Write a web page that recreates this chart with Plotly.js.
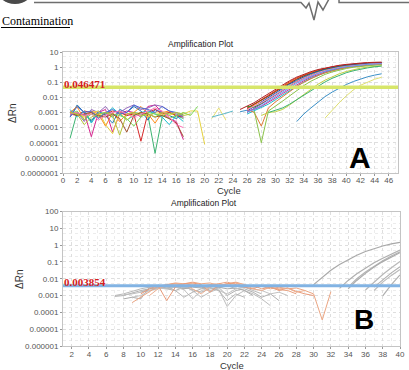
<!DOCTYPE html>
<html>
<head>
<meta charset="utf-8">
<script src="https://cdn.plot.ly/plotly-3.0.1.min.js"></script>
<style>
  html, body { margin: 0; padding: 0; background: #ffffff; }
  #chart { width: 409px; height: 370px; }
</style>
</head>
<body>
<div id="chart"></div>
<script>
// ---- Axis ticks ----
const cycleTicksA = [0, 2, 4, 6, 8, 10, 12, 14, 16, 18, 20, 22, 24, 26, 28, 30, 32, 34, 36, 38, 40, 42, 44, 46];
const cycleTicksB = [2, 4, 6, 8, 10, 12, 14, 16, 18, 20, 22, 24, 26, 28, 30, 32, 34, 36, 38, 40];
const deltaRnTicksA = [1e-7, 1e-6, 1e-5, 1e-4, 1e-3, 1e-2, 1e-1, 1, 10];
const deltaRnLabelsA = ['0.0000001', '0.000001', '0.00001', '0.0001', '0.001', '0.01', '0.1', '1', '10'];
const deltaRnTicksB = [1e-6, 1e-5, 1e-4, 1e-3, 1e-2, 1e-1, 1, 10, 100];
const deltaRnLabelsB = ['0.000001', '0.00001', '0.0001', '0.001', '0.01', '0.1', '1', '10', '100'];

// ---- Thresholds ----
const thresholdA = 0.046471;
const thresholdB = 0.003854;

// ---- Run A: background noise (first cycle, log10 ΔRn per cycle) ----
const runABaseStart = [1, 1, 1, 1, 1, 1, 1, 1, 1, 1, 1, 1, 1, 21, 21, 25];
const runABaseLog = [
  [-4.7, -3.0, -3.2, -3.5, -3.1, -3.0, -3.3, -2.9, -3.2, -3.0, -3.1, -3.2, -5.7, -3.3, -3.0, -3.2, -3.4],
  [-3.3, -2.5, -3.0, -3.6, -2.9, -3.2, -3.7, -2.8, -3.0, -2.6, -2.9, -3.5, -2.8, -3.0, -3.2, -3.4, -3.1],
  [-2.9, -3.1, -3.0, -4.6, -3.0, -2.8, -4.3, -3.1, -2.9, -3.0, -3.3, -2.6, -2.5, -3.0, -3.4, -3.6, -4.8],
  [-3.0, -2.6, -3.5, -2.9, -3.1, -3.9, -3.0, -3.6, -3.1, -3.0, -2.6, -3.1, -3.7, -3.0, -2.9, -3.3, -3.0],
  [-3.1, -3.2, -2.9, -3.0, -3.3, -3.1, -2.9, -3.0, -3.2, -3.1, -4.9, -3.0, -2.8, -3.1, -3.0, -3.2, -3.3],
  [-3.2, -3.0, -3.6, -2.8, -3.0, -2.6, -3.2, -3.0, -2.7, -2.5, -2.8, -2.7, -2.5, -2.6, -2.9, -3.1, -3.3],
  [-2.8, -3.3, -2.9, -3.7, -3.0, -3.1, -2.7, -3.1, -3.5, -3.2, -3.0, -2.9, -3.1, -3.3, -3.8, -3.2, -3.6],
  [-3.0, -3.1, -3.3, -3.0, -2.9, -3.8, -4.4, -3.0, -3.5, -3.1, -3.0, -3.3, -3.0, -3.1, -3.2, -3.0, -3.1, -2.9, -2.9, -5.1],
  [-3.1, -2.9, -3.5, -3.1, -3.3, -3.0, -3.1, -3.2, -3.4, -3.9, -3.3, -3.0, -3.1, -3.2, -3.4, -3.2, -3.0, -3.2, -2.6],
  [-3.0, -3.2, -3.1, -3.0, -3.2, -3.3, -3.1, -3.4, -4.3, -3.2, -3.0, -3.1, -3.3, -3.2, -3.4, -3.7, -4.6],
  [-3.3, -2.6, -3.0, -2.9, -3.4, -3.0, -2.8, -3.1, -3.0, -2.5, -2.7, -2.8, -3.0, -2.6, -2.9, -3.0, -3.2],
  [-3.1, -3.0, -3.2, -3.1, -3.5, -3.2, -3.0, -2.9, -3.1, -3.3, -3.1, -2.9, -2.7, -2.9, -3.3, -3.8, -4.0],
  [-3.0, -3.1, -3.8, -3.3, -3.1, -3.0, -3.2, -4.5, -3.1, -3.0, -3.2, -3.1, -3.3, -3.0, -3.1, -3.0, -3.2, -3.1],
  [-3.4, -2.7, -3.5],
  [-3.3, -3.2, -3.05, -2.9],
  [-2.95, -2.85]
];
const runABaseColor = ['#3cb371', '#1f77b4', '#d62790', '#ff8c1a', '#d62728', '#9467bd', '#17becf', '#e6d23c',
  '#7ed957', '#a0522d', '#4b6cd6', '#ff6fb5', '#b5c43a', '#e8e070', '#5cb8c8', '#3a8fc7'];

// ---- Run A: amplification curves ----
const runAAmpStart = [26, 26, 26, 26, 26, 26, 26, 26, 26, 27, 28, 26, 25, 26, 29, 33, 37];
const runAAmpLog = [
  [-2.75, -2.45, -2.15, -1.85, -1.55, -1.25, -0.97, -0.72, -0.52, -0.35, -0.2, -0.08, 0.02, 0.1, 0.16, 0.21, 0.25, 0.28, 0.3, 0.31],
  [-2.8, -2.5, -2.2, -1.9, -1.6, -1.3, -1.02, -0.77, -0.56, -0.38, -0.23, -0.1, 0.0, 0.08, 0.14, 0.19, 0.23, 0.26, 0.28, 0.3],
  [-2.7, -2.45, -2.2, -1.92, -1.62, -1.33, -1.05, -0.8, -0.58, -0.4, -0.25, -0.12, -0.02, 0.06, 0.13, 0.18, 0.22, 0.25, 0.27, 0.28],
  [-2.9, -2.6, -2.3, -2.0, -1.7, -1.4, -1.12, -0.86, -0.63, -0.44, -0.28, -0.15, -0.04, 0.05, 0.12, 0.17, 0.21, 0.24, 0.26, 0.27],
  [-3.0, -2.75, -2.45, -2.15, -1.85, -1.55, -1.26, -0.98, -0.74, -0.53, -0.36, -0.22, -0.1, 0.0, 0.08, 0.14, 0.19, 0.22, 0.25, 0.27],
  [-2.6, -2.65, -2.4, -2.1, -1.8, -1.5, -1.2, -0.93, -0.7, -0.5, -0.33, -0.19, -0.08, 0.01, 0.08, 0.13, 0.17, 0.2, 0.22, 0.23],
  [-2.9, -2.8, -2.6, -2.35, -2.05, -1.75, -1.45, -1.16, -0.9, -0.67, -0.48, -0.32, -0.19, -0.08, 0.01, 0.08, 0.13, 0.17, 0.2, 0.22],
  [-3.1, -2.9, -2.7, -2.45, -2.15, -1.85, -1.55, -1.25, -0.98, -0.74, -0.54, -0.37, -0.23, -0.12, -0.03, 0.04, 0.1, 0.14, 0.17, 0.19],
  [-2.8, -3.0, -3.9, -2.7, -2.3, -1.95, -1.6, -1.28, -1.0, -0.75, -0.55, -0.38, -0.24, -0.13, -0.04, 0.03, 0.09, 0.13, 0.16, 0.18],
  [-2.9, -5.0, -2.9, -2.6, -2.25, -1.9, -1.55, -1.22, -0.93, -0.68, -0.48, -0.32, -0.19, -0.09, -0.01, 0.05, 0.1, 0.13, 0.15],
  [-3.2, -3.0, -2.95, -2.8, -2.5, -2.15, -1.8, -1.45, -1.13, -0.86, -0.63, -0.44, -0.29, -0.17, -0.07, 0.0, 0.05, 0.09],
  [-2.8, -2.6, -2.35, -2.1, -1.82, -1.52, -1.22, -0.95, -0.72, -0.52, -0.36, -0.22, -0.11, -0.02, 0.05, 0.11, 0.16, 0.19, 0.22, 0.24],
  [-2.8, -2.6, -2.35, -2.05, -1.75, -1.45, -1.16, -0.9, -0.66, -0.46, -0.3, -0.16, -0.05, 0.04, 0.12, 0.18, 0.23, 0.27, 0.3, 0.32, 0.33],
  [-2.95, -2.8, -2.55, -2.25, -1.95, -1.65, -1.35, -1.07, -0.82, -0.6, -0.42, -0.27, -0.15, -0.05, 0.03, 0.09, 0.14, 0.18, 0.21, 0.23],
  [-3.0, -2.85, -2.7, -2.45, -2.15, -1.85, -1.55, -1.25, -0.98, -0.74, -0.54, -0.37, -0.24, -0.13, -0.05, 0.02, 0.07],
  [-3.6, -3.1, -2.7, -2.3, -1.95, -1.65, -1.38, -1.15, -0.95, -0.78, -0.64, -0.53, -0.44],
  [-3.37, -2.85, -2.35, -1.9, -1.5, -1.2, -0.98, -0.8, -0.67]
];
const runAAmpColor = ['#d62728', '#ff7f0e', '#8c3b1a', '#1f4fb4', '#7b3fb5', '#2ca02c', '#d62790', '#17becf',
  '#e07b39', '#8bc34a', '#c0d040', '#ff88c8', '#b22222', '#6495ed', '#3cb371', '#3a8fc7', '#e0e070'];

// ---- Run B: background noise ----
const runBBaseStart = [7, 7, 8, 8, 9, 10, 9, 10, 11, 12];
const runBBaseLog = [
  [-3.0, -2.9, -2.75, -2.6, -2.5, -2.45, -2.5, -2.4, -2.6, -2.45, -2.5, -2.7, -2.55, -2.4, -2.6, -2.5, -2.7, -2.9],
  [-3.05, -3.0, -2.85, -2.7, -2.6, -2.55, -2.6, -2.7, -2.5, -2.65, -2.8, -2.6, -2.5, -3.0, -2.7, -2.6, -2.8, -3.1, -2.9, -3.3],
  [-2.95, -2.9, -2.8, -2.7, -2.55, -2.6, -2.5, -2.45, -2.7, -3.1, -2.8, -2.6, -3.65, -3.0, -2.7, -2.9, -3.2, -3.6],
  [-3.2, -3.1, -3.2, -2.5, -2.45, -2.55, -2.5, -2.6, -2.5, -2.55, -2.45, -2.5, -2.6, -2.55, -2.7, -3.0],
  [-3.1, -3.0, -2.7, -2.6, -2.55, -2.5, -2.65, -3.2, -2.7, -2.55, -2.7, -2.9, -2.6, -2.5, -2.6, -2.7, -2.9, -2.8, -3.0],
  [-2.8, -2.6, -2.5, -2.45, -2.7, -3.1, -2.8, -2.6, -2.5, -2.7, -3.3, -2.9, -3.1],
  [-3.42, -3.1, -2.8, -2.45, -2.35, -2.25, -2.3, -2.2, -2.3, -2.25, -2.4, -2.3, -2.2, -2.35, -2.5, -2.45, -2.6, -2.5, -2.6, -2.55, -2.7, -2.9, -4.45, -2.77],
  [-2.9, -2.6, -2.4, -3.3, -2.5, -2.3, -2.25, -2.35, -2.8, -2.4, -2.3, -2.25, -2.5, -2.6, -2.4, -2.5, -2.7, -2.55, -2.75, -2.9, -3.0],
  [-3.0, -2.6, -2.4, -2.3, -2.35, -2.6, -2.9, -2.5, -2.3, -2.4, -2.25, -2.35, -2.6, -2.7, -2.5, -2.6, -2.55, -2.8, -2.7],
  [-2.5, -2.35, -2.3, -2.4, -2.3, -2.45, -2.35, -2.3, -2.2, -2.35, -2.5, -2.4, -2.6, -2.5, -2.65, -2.7, -2.9]
];
const runBBaseColor = ['#b8b8b8', '#b0b0b0', '#bdbdbd', '#aaaaaa', '#c2c2c2', '#b4b4b4',
  '#eba582', '#e99a78', '#eeae8e', '#e8a07e'];

// ---- Run B: amplification curves ----
const runBAmpStart = [30, 33, 34, 34, 36, 37, 37, 38];
const runBAmpLog = [
  [-2.35, -1.9, -1.5, -1.15, -0.85, -0.6, -0.38, -0.2, -0.05, 0.07, 0.16],
  [-2.57, -2.1, -1.7, -1.35, -1.05, -0.78, -0.52, -0.29],
  [-2.5, -2.0, -1.6, -1.25, -0.93, -0.65, -0.4],
  [-2.6, -2.1, -1.68, -1.3, -0.98, -0.7, -0.45],
  [-2.67, -2.2, -1.75, -1.35, -0.98],
  [-2.5, -2.05, -1.65, -1.28],
  [-2.7, -2.2, -1.8, -1.45],
  [-3.02, -2.35, -1.77]
];
const runBAmpColor = ['#a9a9a9', '#b0b0b0', '#b5b5b5', '#ababab', '#b8b8b8', '#b2b2b2', '#bcbcbc', '#b0b0b0'];

// ---- page geometry helpers (pixels -> paper fractions) ----
const W = 409, H = 370;
const px = x => x / W;
const py = y => 1 - y / H;

function curve(xa, ya, start, logs, color, width) {
  return {
    type: 'scatter', mode: 'lines', xaxis: xa, yaxis: ya,
    x: logs.map((_, i) => start + i),
    y: logs.map(v => Math.pow(10, v)),
    line: { color: color, width: width || 1 },
    hoverinfo: 'skip', showlegend: false
  };
}

const traces = [];
runABaseLog.forEach((s, i) => traces.push(curve('x', 'y', runABaseStart[i], s, runABaseColor[i])));
runAAmpLog.forEach((s, i) => traces.push(curve('x', 'y', runAAmpStart[i], s, runAAmpColor[i])));
traces.push({ type: 'scatter', mode: 'lines', xaxis: 'x', yaxis: 'y', x: [0, 47.3], y: [thresholdA, thresholdA],
  line: { color: '#d7e66a', width: 3.5 }, hoverinfo: 'skip', showlegend: false });

runBBaseLog.forEach((s, i) => traces.push(curve('x2', 'y2', runBBaseStart[i], s, runBBaseColor[i])));
runBAmpLog.forEach((s, i) => traces.push(curve('x2', 'y2', runBAmpStart[i], s, runBAmpColor[i], 1.2)));
traces.push({ type: 'scatter', mode: 'lines', xaxis: 'x2', yaxis: 'y2', x: [1, 40], y: [thresholdB, thresholdB],
  line: { color: '#82b3e3', width: 3 }, hoverinfo: 'skip', showlegend: false });

const tickFont = { family: 'Liberation Sans, Arial, sans-serif', size: 8, color: '#555555' };
const gridStyle = {
  showgrid: true, gridcolor: '#dedede', griddash: 'dot', gridwidth: 1,
  showline: true, mirror: true, linecolor: '#c4c4c4', linewidth: 1,
  ticks: 'outside', ticklen: 2, tickcolor: '#999999',
  zeroline: false, tickfont: tickFont, fixedrange: true
};

const layout = {
  width: W, height: H, autosize: false,
  margin: { l: 0, r: 0, t: 0, b: 0, pad: 0 },
  paper_bgcolor: '#ffffff', plot_bgcolor: '#ffffff',
  showlegend: false, hovermode: false,
  xaxis: Object.assign({}, gridStyle, {
    domain: [px(63), px(398)], anchor: 'y', range: [0, 47.3],
    tickmode: 'array', tickvals: cycleTicksA, ticklabelstandoff: -3,
    minor: { dtick: 1, showgrid: true, gridcolor: '#ececec', griddash: 'dot' }
  }),
  yaxis: Object.assign({}, gridStyle, {
    domain: [py(173), py(52)], anchor: 'x', type: 'log', range: [-7, 1],
    tickmode: 'array', tickvals: deltaRnTicksA, ticktext: deltaRnLabelsA,
    minor: { dtick: 'D2', showgrid: true, gridcolor: '#ececec', griddash: 'dot' }
  }),
  xaxis2: Object.assign({}, gridStyle, {
    domain: [px(63), px(400)], anchor: 'y2', range: [1, 40],
    tickmode: 'array', tickvals: cycleTicksB, ticklabelstandoff: -2,
    minor: { dtick: 1, showgrid: true, gridcolor: '#ececec', griddash: 'dot' }
  }),
  yaxis2: Object.assign({}, gridStyle, {
    domain: [py(346), py(211.5)], anchor: 'x2', type: 'log', range: [-6, 2],
    tickmode: 'array', tickvals: deltaRnTicksB, ticktext: deltaRnLabelsB,
    minor: { dtick: 'D2', showgrid: true, gridcolor: '#ececec', griddash: 'dot' }
  }),
  annotations: [],
  shapes: []
};

const sans = 'Liberation Sans, Arial, sans-serif';
const serif = 'Liberation Serif, Times New Roman, serif';
function note(text, x, y, font, extra) {
  layout.annotations.push(Object.assign({
    text: text, xref: 'paper', yref: 'paper', x: px(x), y: py(y),
    xanchor: 'center', yanchor: 'middle', showarrow: false, font: font
  }, extra || {}));
}

// header
note('Contamination', 0, 21.5, { family: serif, size: 12, color: '#000000' }, { xanchor: 'left' });
layout.shapes.push({ type: 'line', xref: 'paper', yref: 'paper', x0: px(1), x1: px(70), y0: py(27.5), y1: py(27.5),
  line: { color: '#000000', width: 1 } });

// running-head rule with a heartbeat trace
function pathFrom(points) {
  return points.map((p, i) => (i ? 'L' : 'M') + px(p[0]).toFixed(4) + ',' + py(p[1]).toFixed(4)).join(' ');
}
layout.shapes.push({ type: 'path', xref: 'paper', yref: 'paper',
  path: pathFrom([[34, 2.5], [301, 2.5], [306, 8], [309, 3], [314, 20], [318, 2], [323, 10], [329, -1]]),
  line: { color: '#6e6e6e', width: 1.5 } });
layout.shapes.push({ type: 'path', xref: 'paper', yref: 'paper',
  path: pathFrom([[339, -1], [339, 2.5], [409, 2.5]]),
  line: { color: '#6e6e6e', width: 1.5 } });
layout.shapes.push({ type: 'circle', xref: 'paper', yref: 'paper', x0: px(-4), x1: px(34), y0: py(4), y1: py(-30),
  fillcolor: '#4a4a4a', line: { color: '#4a4a4a', width: 0 } });

// panel A text
note('Amplification Plot', 201, 44, { family: sans, size: 8.5, color: '#222222' });
note('ΔRn', 13, 114, { family: sans, size: 10, color: '#333333' }, { textangle: -90 });
note('Cycle', 229, 191, { family: sans, size: 9.5, color: '#333333' });
note('<b>0.046471</b>', 62, 83.5, { family: serif, size: 11, color: '#d42020' }, { xanchor: 'left' });
note('<b>A</b>', 360, 157, { family: sans, size: 30, color: '#000000' });

// panel B text
note('Amplification Plot', 204, 203, { family: sans, size: 8.5, color: '#222222' });
note('ΔRn', 19, 280, { family: sans, size: 10, color: '#333333' }, { textangle: -90 });
note('Cycle', 232, 365.5, { family: sans, size: 9.5, color: '#333333' });
note('<b>0.003854</b>', 62, 281.5, { family: serif, size: 11, color: '#d42020' }, { xanchor: 'left' });
note('<b>B</b>', 364, 319, { family: sans, size: 28, color: '#000000' });

Plotly.newPlot('chart', traces, layout, { staticPlot: true, displayModeBar: false });
</script>
</body>
</html>
